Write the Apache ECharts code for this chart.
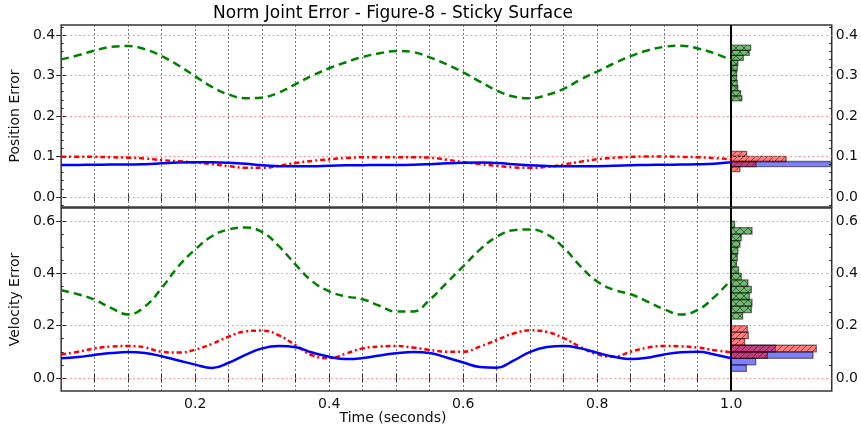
<!DOCTYPE html>
<html lang="en">
<head>
<meta charset="UTF-8">
<title>Norm Joint Error - Figure-8 - Sticky Surface</title>
<script src="https://cdn.jsdelivr.net/npm/echarts@6.0.0/dist/echarts.min.js"></script>
</head>
<body style="margin:0">
<div id="main" style="width:861px;height:430px;"></div>
<script>
// sample times (seconds)
let times = [0, 0.025, 0.05, 0.075, 0.1, 0.125, 0.15, 0.175, 0.2, 0.225,
  0.25, 0.275, 0.3, 0.325, 0.35, 0.375, 0.4, 0.425, 0.45, 0.475,
  0.5, 0.525, 0.55, 0.575, 0.6, 0.625, 0.65, 0.675, 0.7, 0.725,
  0.75, 0.775, 0.8, 0.825, 0.85, 0.875, 0.9, 0.925, 0.95, 0.975, 1.0];

// position error traces
let posGreen = [0.340, 0.350, 0.362, 0.371, 0.373, 0.365, 0.348, 0.325, 0.298, 0.272,
  0.253, 0.244, 0.246, 0.258, 0.279, 0.300, 0.318, 0.333, 0.346, 0.355,
  0.361, 0.358, 0.345, 0.328, 0.308, 0.285, 0.263, 0.248, 0.244, 0.252,
  0.267, 0.290, 0.310, 0.330, 0.348, 0.362, 0.371, 0.374, 0.367, 0.355, 0.338];
let posRed = [0.099, 0.099, 0.099, 0.098, 0.097, 0.095, 0.091, 0.088, 0.085, 0.081,
  0.076, 0.072, 0.072, 0.077, 0.084, 0.089, 0.093, 0.096, 0.098, 0.098,
  0.098, 0.098, 0.097, 0.092, 0.086, 0.081, 0.077, 0.073, 0.072, 0.074,
  0.080, 0.087, 0.093, 0.097, 0.099, 0.100, 0.100, 0.099, 0.098, 0.096, 0.093];
let posBlue = [0.079, 0.079, 0.0795, 0.080, 0.080, 0.081, 0.083, 0.085, 0.0855, 0.0855,
  0.0845, 0.082, 0.078, 0.076, 0.0755, 0.0757, 0.077, 0.078, 0.0785, 0.079,
  0.079, 0.0795, 0.081, 0.083, 0.0845, 0.085, 0.0835, 0.081, 0.078, 0.0765,
  0.0755, 0.0755, 0.076, 0.077, 0.078, 0.079, 0.0795, 0.080, 0.0805, 0.082, 0.0855];

// velocity error traces
let velGreen = [0.335, 0.320, 0.299, 0.267, 0.243, 0.273, 0.344, 0.427, 0.491, 0.542,
  0.568, 0.575, 0.558, 0.504, 0.433, 0.369, 0.331, 0.312, 0.301, 0.276,
  0.254, 0.254, 0.299, 0.363, 0.427, 0.491, 0.540, 0.565, 0.568, 0.549,
  0.498, 0.427, 0.369, 0.337, 0.320, 0.292, 0.263, 0.243, 0.260, 0.310, 0.376];
let velRed = [0.090, 0.100, 0.113, 0.120, 0.122, 0.117, 0.100, 0.097, 0.108, 0.130,
  0.158, 0.178, 0.181, 0.163, 0.125, 0.086, 0.076, 0.093, 0.113, 0.120,
  0.122, 0.116, 0.107, 0.100, 0.100, 0.120, 0.145, 0.170, 0.182, 0.176,
  0.152, 0.118, 0.090, 0.081, 0.100, 0.116, 0.122, 0.121, 0.116, 0.106, 0.098];
let velBlue = [0.075, 0.080, 0.088, 0.095, 0.099, 0.095, 0.083, 0.067, 0.051, 0.038,
  0.058, 0.088, 0.113, 0.122, 0.117, 0.097, 0.081, 0.072, 0.076, 0.086,
  0.094, 0.099, 0.095, 0.078, 0.059, 0.042, 0.039, 0.066, 0.100, 0.118,
  0.122, 0.113, 0.096, 0.081, 0.072, 0.077, 0.090, 0.098, 0.100, 0.090, 0.075];

// histograms: lower bin edges and bar lengths (in time-axis units beyond 1.0)
let posBin = 0.0125;
let posGreenEdges = [0.2375, 0.25, 0.2625, 0.275, 0.2875, 0.3, 0.3125, 0.325, 0.3375, 0.35, 0.3625];
let posGreenLen = [0.016, 0.014, 0.010, 0.009, 0.008, 0.008, 0.009, 0.010, 0.018, 0.027, 0.029];
let posRedEdges = [0.0625, 0.075, 0.0875, 0.1];
let posRedLen = [0.013, 0.037, 0.082, 0.023];
let posBlueEdges = [0.075];
let posBlueLen = [0.148];

let velBin = 0.025;
let velGreenEdges = [0.225, 0.25, 0.275, 0.3, 0.325, 0.35, 0.375, 0.4, 0.425, 0.45, 0.475, 0.5, 0.525, 0.55, 0.575];
let velGreenLen = [0.017, 0.030, 0.031, 0.027, 0.030, 0.025, 0.015, 0.011, 0.008, 0.009, 0.010, 0.013, 0.015, 0.031, 0.005];
let velRedEdges = [0.075, 0.1, 0.125, 0.15, 0.175];
let velRedLen = [0.054, 0.127, 0.020, 0.0255, 0.024];
let velBlueEdges = [0.025, 0.05, 0.075, 0.1];
let velBlueLen = [0.0226, 0.0365, 0.122, 0.066];

// ticks
let xTicks = [0.05, 0.1, 0.15, 0.2, 0.25, 0.3, 0.35, 0.4, 0.45, 0.5,
  0.55, 0.6, 0.65, 0.7, 0.75, 0.8, 0.85, 0.9, 0.95, 1.0];
let xLabels = [0.2, 0.4, 0.6, 0.8, 1.0];
let posMajor = [0, 0.1, 0.2, 0.3, 0.4];
let posMinor = [-0.02, 0.02, 0.04, 0.06, 0.08, 0.12, 0.14, 0.16, 0.18, 0.22, 0.24,
  0.26, 0.28, 0.32, 0.34, 0.36, 0.38, 0.42];
let velMajor = [0, 0.2, 0.4, 0.6];
let velMinor = [0.05, 0.1, 0.15, 0.25, 0.3, 0.35, 0.45, 0.5, 0.55];

const XMAX = 1.15;
const FONT = 'DejaVu Sans';

let myChart = echarts.init(document.getElementById('main'));

function hatch(bg, ink, size, cross) {
  let c = document.createElement('canvas');
  c.width = size; c.height = size;
  let g = c.getContext('2d');
  g.fillStyle = bg;
  g.fillRect(0, 0, size, size);
  g.strokeStyle = ink;
  g.lineWidth = 1;
  g.beginPath();
  for (let k = -1; k <= 1; k++) {
    g.moveTo(k * size, size); g.lineTo(k * size + size, 0);
    if (cross) { g.moveTo(k * size, 0); g.lineTo(k * size + size, size); }
  }
  g.stroke();
  return { image: c, repeat: 'repeat' };
}

let redFill = hatch('rgba(255,0,0,0.5)', 'rgba(110,0,0,0.55)', 6, false);
let greenFill = hatch('rgba(0,128,0,0.55)', 'rgba(0,40,0,0.55)', 8, true);
let blueFill = 'rgba(0,0,255,0.5)';

function histSeries(xi, yi, edges, lens, bin, fill, z) {
  return {
    type: 'custom', xAxisIndex: xi, yAxisIndex: yi, z: z, silent: true,
    data: edges.map((e, i) => [e, e + bin, lens[i]]),
    renderItem: function (params, api) {
      let a = api.coord([1.0, api.value(1)]);
      let b = api.coord([1.0 + api.value(2), api.value(0)]);
      let cs = params.coordSys;
      let r = echarts.graphic.clipRectByRect(
        { x: a[0], y: a[1], width: b[0] - a[0], height: b[1] - a[1] },
        { x: cs.x, y: cs.y, width: cs.width, height: cs.height });
      if (!r) return;
      return {
        type: 'rect', shape: r,
        style: { fill: fill, stroke: 'rgba(0,0,0,0.5)', lineWidth: 1.3 }
      };
    }
  };
}

function lineSeries(xi, yi, vals, color, dash, z) {
  return {
    type: 'line', xAxisIndex: xi, yAxisIndex: yi, z: z,
    data: times.map((t, i) => [t, vals[i]]),
    showSymbol: false, smooth: 0.45, silent: true,
    lineStyle: { color: color, width: 2.5, type: dash }
  };
}

function gridLines(xi, yi, major) {
  return {
    type: 'line', xAxisIndex: xi, yAxisIndex: yi, z: 1, data: [], silent: true,
    markLine: {
      symbol: ['none', 'none'], silent: true, animation: false,
      label: { show: false },
      lineStyle: { type: [2, 2], color: '#555', width: 0.8 },
      data: xTicks.filter(v => v < 1).map(v => ({ xAxis: v }))
        .concat(major.map(v => ({ yAxis: v, lineStyle: { type: [1.5, 3], color: '#ff7a7a', width: 1 } })))
    }
  };
}

function edgeLine(xi, yi) {
  return {
    type: 'line', xAxisIndex: xi, yAxisIndex: yi, z: 10, data: [], silent: true,
    markLine: {
      symbol: ['none', 'none'], silent: true, animation: false,
      label: { show: false },
      lineStyle: { type: 'solid', color: '#000', width: 2 },
      data: [{ xAxis: 1.0 }]
    }
  };
}

function xAxisDef(grid, pos, showLabels) {
  return {
    type: 'value', gridIndex: grid, position: pos, min: 0, max: XMAX,
    axisLine: { show: false }, splitLine: { show: false },
    axisTick: { show: true, inside: true, length: 4, customValues: xTicks, lineStyle: { color: '#222' } },
    axisLabel: { show: showLabels, customValues: xLabels, formatter: v => v.toFixed(1),
      color: '#111', fontSize: 14, margin: 6, fontFamily: FONT }
  };
}

function yAxisDef(grid, side, lo, hi, ticks, len, showLabels, name) {
  return {
    type: 'value', gridIndex: grid, position: side, min: lo, max: hi,
    axisLine: { show: false }, splitLine: { show: false },
    axisTick: { show: true, inside: true, length: len, customValues: ticks, lineStyle: { color: '#222' } },
    axisLabel: { show: showLabels, customValues: ticks, formatter: v => v.toFixed(1),
      color: '#111', fontSize: 14, margin: side === 'left' ? 6 : 4, fontFamily: FONT },
    name: name || '', nameLocation: 'middle', nameGap: 28,
    nameTextStyle: { fontSize: 14, color: '#111', fontFamily: FONT }
  };
}

let options = {
  animation: false,
  textStyle: { fontFamily: FONT },
  title: [
    { text: 'Norm Joint Error - Figure-8 - Sticky Surface', left: 393, top: 5, padding: 0,
      textAlign: 'center', textStyle: { fontSize: 17, fontWeight: 'normal', color: '#000', fontFamily: FONT } },
    { text: 'Time (seconds)', left: 393, top: 411, padding: 0,
      textAlign: 'center', textStyle: { fontSize: 14, fontWeight: 'normal', color: '#111', fontFamily: FONT } }
  ],
  grid: [
    { left: 55, top: 25, width: 779, height: 182, show: true, borderColor: '#333', borderWidth: 1.5, backgroundColor: '#fff' },
    { left: 55, top: 208, width: 779, height: 183, show: true, borderColor: '#333', borderWidth: 1.5, backgroundColor: '#fff' }
  ],
  xAxis: [
    xAxisDef(0, 'bottom', false),
    xAxisDef(0, 'top', false),
    xAxisDef(1, 'bottom', true),
    xAxisDef(1, 'top', false)
  ],
  yAxis: [
    yAxisDef(0, 'left', -0.025, 0.425, posMajor, 5, true, 'Position Error'),
    yAxisDef(0, 'right', -0.025, 0.425, posMajor, 5, true),
    yAxisDef(0, 'left', -0.025, 0.425, posMinor, 2.5, false),
    yAxisDef(0, 'right', -0.025, 0.425, posMinor, 2.5, false),
    yAxisDef(1, 'left', -0.05, 0.65, velMajor, 5, true, 'Velocity Error'),
    yAxisDef(1, 'right', -0.05, 0.65, velMajor, 5, true),
    yAxisDef(1, 'left', -0.05, 0.65, velMinor, 2.5, false),
    yAxisDef(1, 'right', -0.05, 0.65, velMinor, 2.5, false)
  ],
  series: [
    gridLines(0, 0, posMajor),
    gridLines(2, 4, velMajor),
    histSeries(0, 0, posBlueEdges, posBlueLen, posBin, blueFill, 3),
    histSeries(0, 0, posRedEdges, posRedLen, posBin, redFill, 4),
    histSeries(0, 0, posGreenEdges, posGreenLen, posBin, greenFill, 5),
    histSeries(2, 4, velBlueEdges, velBlueLen, velBin, blueFill, 3),
    histSeries(2, 4, velRedEdges, velRedLen, velBin, redFill, 4),
    histSeries(2, 4, velGreenEdges, velGreenLen, velBin, greenFill, 5),
    lineSeries(0, 0, posGreen, '#008000', [8, 5], 6),
    lineSeries(0, 0, posRed, '#ff0000', [5, 3, 2, 3], 6),
    lineSeries(0, 0, posBlue, '#0000ff', 'solid', 7),
    lineSeries(2, 4, velGreen, '#008000', [8, 5], 6),
    lineSeries(2, 4, velRed, '#ff0000', [5, 3, 2, 3], 6),
    lineSeries(2, 4, velBlue, '#0000ff', 'solid', 7),
    edgeLine(0, 0),
    edgeLine(2, 4)
  ]
};

myChart.setOption(options);
</script>
</body>
</html>
